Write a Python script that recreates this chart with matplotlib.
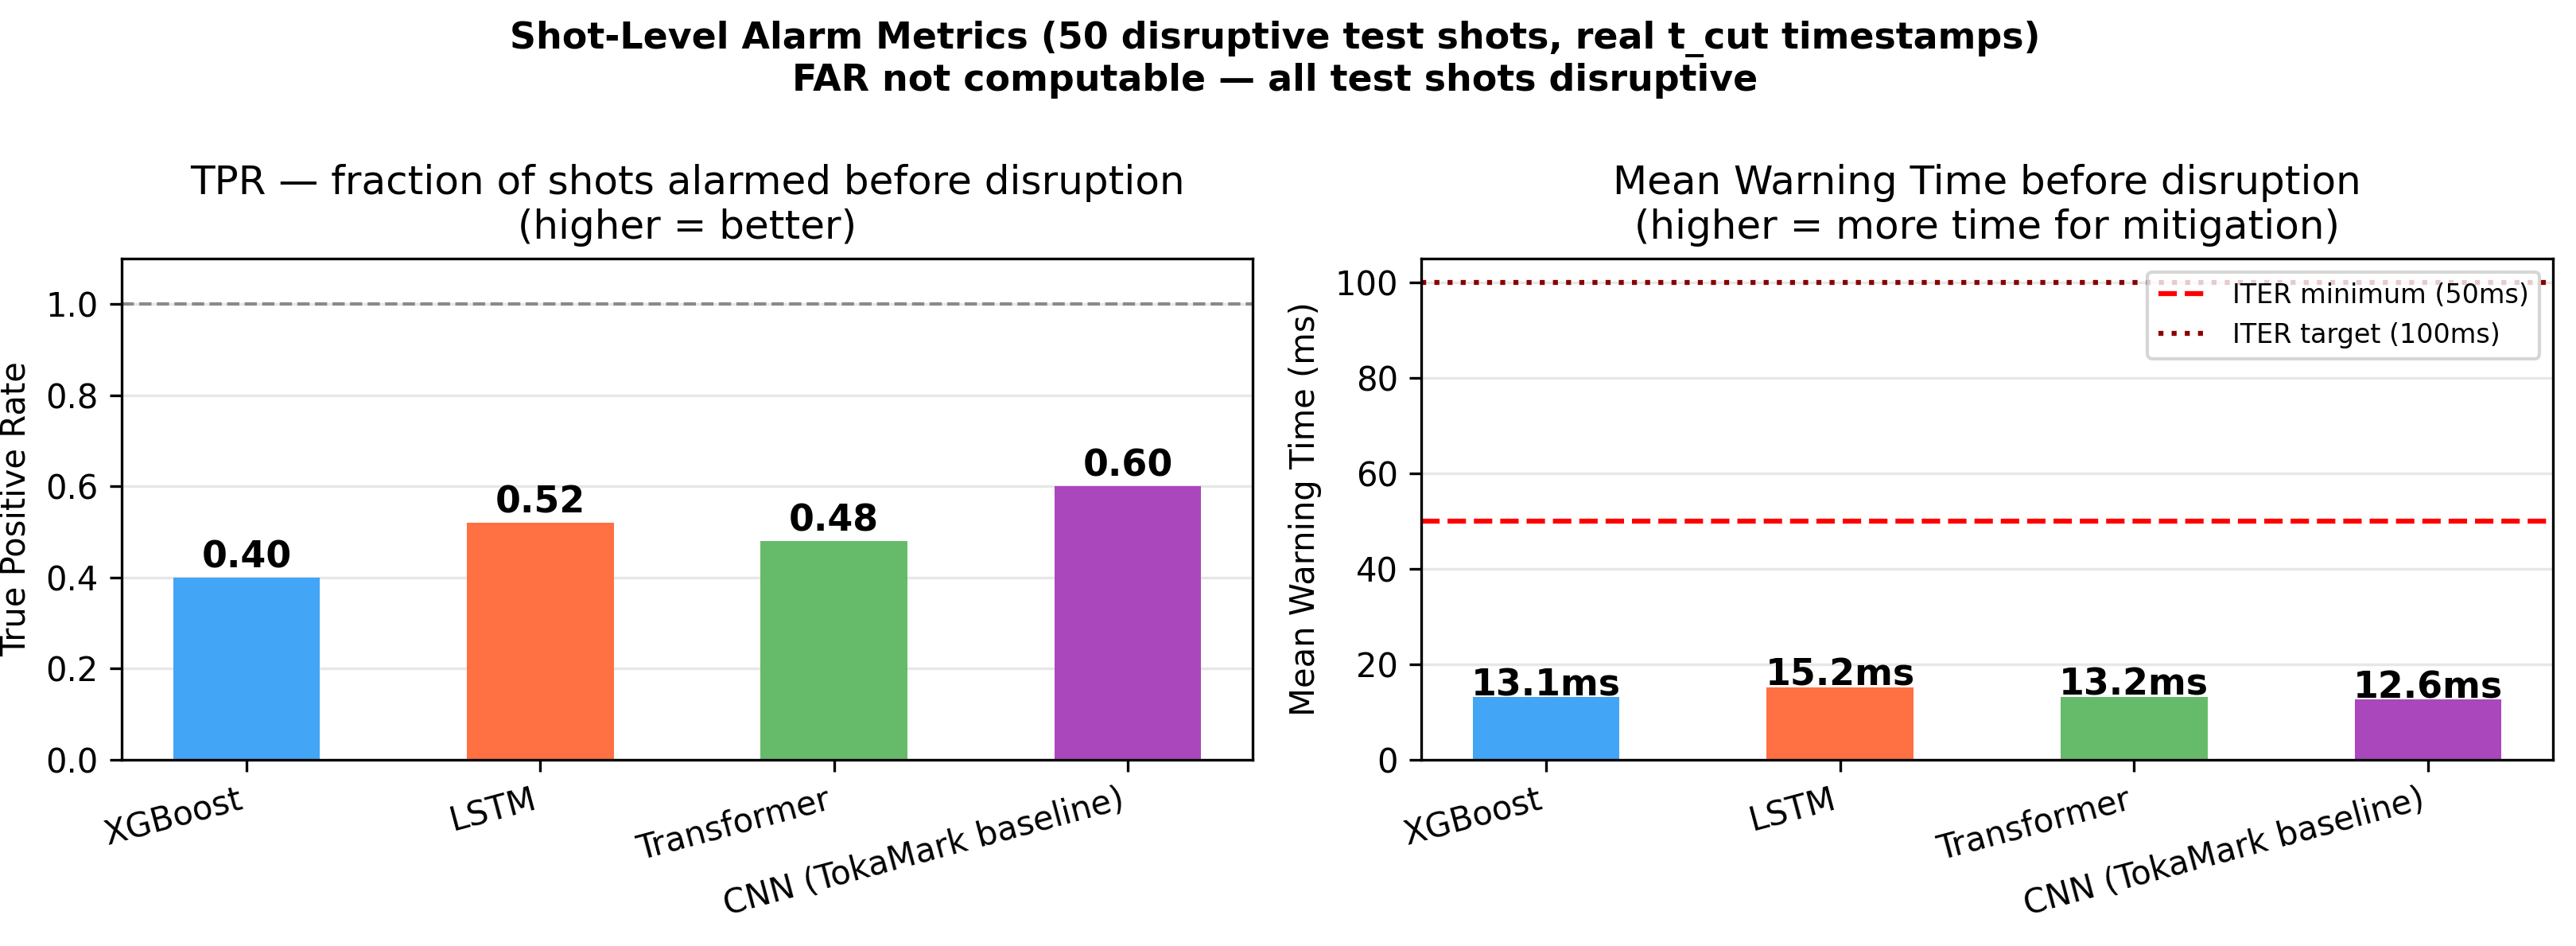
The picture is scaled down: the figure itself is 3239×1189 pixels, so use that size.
import matplotlib
matplotlib.use("Agg")
import matplotlib.pyplot as plt
import numpy as np

models = ["XGBoost", "LSTM", "Transformer", "CNN (TokaMark baseline)"]
tpr = [0.40, 0.52, 0.48, 0.60]
warn_ms = [13.1, 15.2, 13.2, 12.6]
colors = ["#42A5F5", "#FF7043", "#66BB6A", "#AB47BC"]
iter_min = 50
iter_target = 100

DPI = 300
fig = plt.figure(figsize=(3239/DPI, 1189/DPI), dpi=DPI)
ax1 = fig.add_axes([153/3239, 1-955/1189, (1575-153)/3239, (955-325)/1189])
ax2 = fig.add_axes([1787/3239, 1-955/1189, (3210-1787)/3239, (955-325)/1189])

x = np.arange(len(models))

ax1.bar(x, tpr, width=0.5, color=colors)
ax1.axhline(1.0, color="gray", linestyle="--", linewidth=1, alpha=0.9)
for i, v in enumerate(tpr):
    ax1.text(i, v + 0.022, f"{v:.2f}", ha="center", va="baseline", fontsize=11, fontweight="bold")
ax1.set_ylim(0, 1.1)
ax1.set_xticks(x)
ax1.set_xticklabels(models, rotation=15, ha="right", fontsize=10)
ax1.set_ylabel("True Positive Rate", fontsize=10)
ax1.set_title("TPR — fraction of shots alarmed before disruption\n(higher = better)", fontsize=12)
ax1.grid(axis="y", alpha=0.3)
ax1.set_axisbelow(True)

ax2.bar(x, warn_ms, width=0.5, color=colors)
ax2.axhline(iter_min, color="red", linestyle="--", linewidth=1.5, label="ITER minimum (50ms)")
ax2.axhline(iter_target, color="darkred", linestyle=":", linewidth=1.5, label="ITER target (100ms)")
for i, v in enumerate(warn_ms):
    ax2.text(i, v + 0.35, f"{v:.1f}ms", ha="center", va="baseline", fontsize=11, fontweight="bold")
ax2.set_ylim(0, 105)
ax2.set_xticks(x)
ax2.set_xticklabels(models, rotation=15, ha="right", fontsize=10)
ax2.set_ylabel("Mean Warning Time (ms)", fontsize=10)
ax2.set_title("Mean Warning Time before disruption\n(higher = more time for mitigation)", fontsize=12)
ax2.legend(loc="upper right", fontsize=8)
ax2.grid(axis="y", alpha=0.3)
ax2.set_axisbelow(True)

fig.text(0.495, 1-75/1189, "Shot-Level Alarm Metrics (50 disruptive test shots, real t_cut timestamps)\nFAR not computable — all test shots disruptive",
         ha="center", va="center", fontsize=11, fontweight="bold")

fig.savefig("out.png", dpi=DPI)
